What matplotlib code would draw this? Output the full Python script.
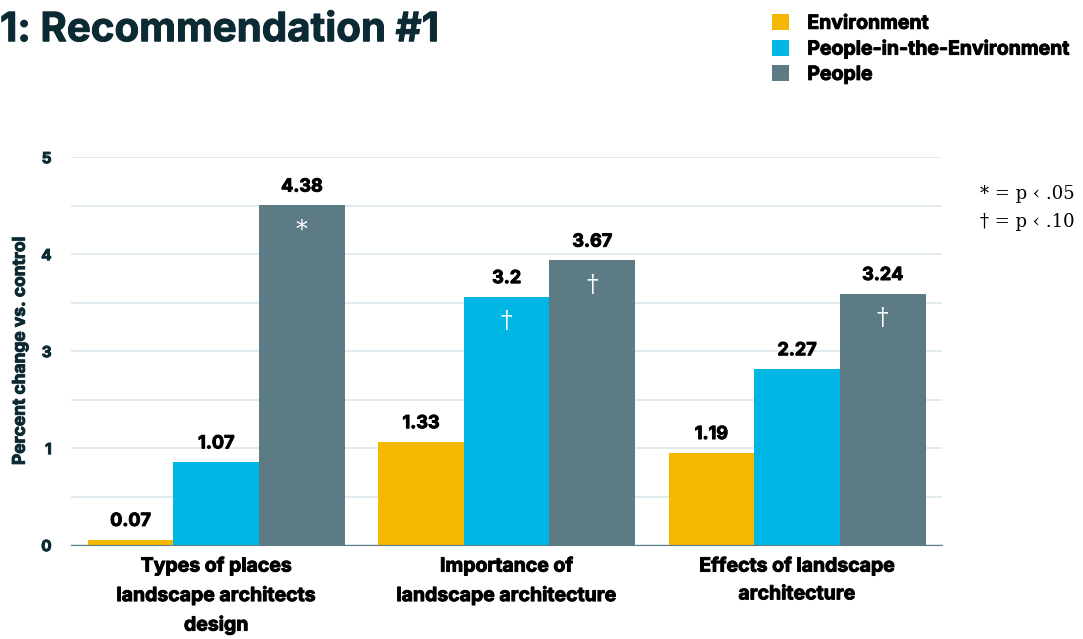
import numpy as np
import matplotlib
matplotlib.use("Agg")
import matplotlib.pyplot as plt
import matplotlib.patheffects as pe

categories = ["Types of places\nlandscape architects\ndesign",
              "Importance of\nlandscape architecture",
              "Effects of landscape\narchitecture"]
series = ["Environment", "People-in-the-Environment", "People"]
values = {
   "Environment": [0.07, 1.33, 1.19],
   "People-in-the-Environment": [1.07, 3.2, 2.27],
   "People": [4.38, 3.67, 3.24],
}
marks = {
   "Environment": ["", "", ""],
   "People-in-the-Environment": ["", "\u2020", ""],
   "People": ["*", "\u2020", "\u2020"],
}
ytick_pos = [0, 1.25, 2.5, 3.75, 5]
ytick_labels = ["0", "1", "3", "4", "5"]
colors = ["#f5b800", "#00b6e4", "#5d7b84"]

plt.rcParams["font.family"] = ["Inter", "DejaVu Sans"]
dark = "#0b2a33"

def heavy(color):
   # bolder look than Inter Bold alone
   return [pe.withStroke(linewidth=0.7, foreground=color)]

fig = plt.figure(figsize=(10.83, 6.39), dpi=100)
ax = fig.add_axes([0.0656, 0.147, 0.8044, 0.607])

x = np.arange(len(categories))
w = 0.295
for i, (name, col) in enumerate(zip(series, colors)):
   xs = x + (i - 1) * w
   bars = ax.bar(xs, values[name], width=w, color=col, label=name, zorder=3)
   for b, v, m in zip(bars, values[name], marks[name]):
      cx = b.get_x() + b.get_width() / 2
      ax.annotate(str(v), (cx, v), xytext=(0, 7), textcoords="offset points",
                  ha="center", va="bottom", fontsize=13, fontweight="bold", color="black",
                  path_effects=heavy("black"))
      if m:
         ax.annotate(m, (cx, v), xytext=(0, -18), textcoords="offset points",
                     ha="center", va="center", fontsize=17, color="white",
                     family=["DejaVu Serif"])

ax.set_xlim(-0.5, 2.5)
ax.set_ylim(0, 5)
ax.set_yticks(ytick_pos)
ax.set_yticklabels(ytick_labels, fontsize=11, fontweight="bold", color=dark)
for t in ax.get_yticklabels():
   t.set_path_effects(heavy(dark))
ax.set_yticks(np.arange(0, 5.01, 0.625), minor=True)
ax.grid(axis="y", which="both", color="#dce6ec", linewidth=1.2, zorder=0)
ax.tick_params(axis="y", which="both", length=0, pad=14)
ax.set_xticks(x)
ax.set_xticklabels(categories, fontsize=14, fontweight="bold", color="black",
                   linespacing=1.7)
for t in ax.get_xticklabels():
   t.set_path_effects(heavy("black"))
ax.tick_params(axis="x", length=0, pad=9)
for s in ["top", "right", "left"]:
   ax.spines[s].set_visible(False)
ax.spines["bottom"].set_color("#5f7f88")
ax.spines["bottom"].set_zorder(4)
ax.set_ylabel("Percent change vs. control", fontsize=12.5, fontweight="bold",
              color=dark, labelpad=9, path_effects=heavy(dark))

fig.text(0.0, 0.952, "1: Recommendation #1", fontsize=29, fontweight="bold",
         color=dark, ha="left", va="center", path_effects=heavy(dark))

leg = fig.legend(loc="upper left", bbox_to_anchor=(0.697, 1.005), frameon=False,
                 handlelength=0.85, handleheight=0.85, handletextpad=0.95, labelspacing=0.35,
                 prop={"size": 14, "weight": "bold"})
for t in leg.get_texts():
   t.set_path_effects(heavy("black"))

fig.text(0.905, 0.697, "* = p \u2039 .05", fontsize=13, family=["DejaVu Serif"], va="center")
fig.text(0.905, 0.652, "\u2020 = p \u2039 .10", fontsize=13, family=["DejaVu Serif"], va="center")

fig.savefig("out.png", dpi=100)
